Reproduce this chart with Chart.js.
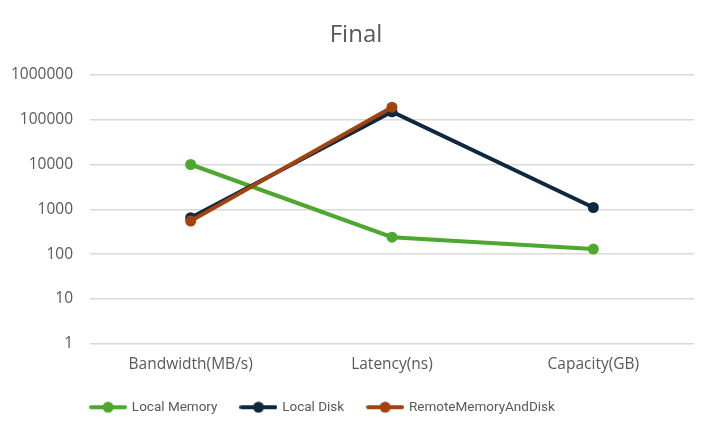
<!DOCTYPE html>
<html>
<head>
<meta charset="utf-8">
<script src="https://cdn.jsdelivr.net/npm/chart.js@4.4.1/dist/chart.umd.min.js"></script>
<style>
    html, body { margin: 0; padding: 0; background: #fff; }
    #wrap { width: 712px; height: 429px; }
</style>
</head>
<body>
<div id="wrap"><canvas id="chart" width="712" height="429"></canvas></div>
<script>
const categories = ['Bandwidth(MB/s)', 'Latency(ns)', 'Capacity(GB)'];
const localMemory = [10000, 240, 130];
const localDisk = [650, 150000, 1100];
const remoteMemoryAndDisk = [550, 190000, null];
const yTicks = [1, 10, 100, 1000, 10000, 100000, 1000000];

const textColor = '#595959';
const fontFamily = '"Open Sans", sans-serif';

// line + dot icon for the legend
function legendIcon(color) {
    const c = document.createElement('canvas');
    c.width = 38;
    c.height = 12;
    const g = c.getContext('2d');
    g.strokeStyle = color;
    g.lineWidth = 4;
    g.lineCap = 'round';
    g.beginPath();
    g.moveTo(2, 6);
    g.lineTo(36, 6);
    g.stroke();
    g.fillStyle = color;
    g.beginPath();
    g.arc(19, 6, 5.5, 0, Math.PI * 2);
    g.fill();
    return c;
}

function makeSeries(label, data, color, order) {
    return {
        label: label,
        data: data,
        borderColor: color,
        backgroundColor: color,
        borderWidth: 4,
        pointRadius: 5.5,
        pointHoverRadius: 5.5,
        pointBorderWidth: 0,
        order: order
    };
}

// nudge title and legend to where the reference has them
const nudgeBoxes = {
    id: 'nudgeBoxes',
    afterLayout(chart) {
        chart.legend.left -= 24;
        chart.legend.right -= 24;
        chart.titleBlock.left += 9;
        chart.titleBlock.right += 9;
    }
};

const ctx = document.getElementById('chart').getContext('2d');

new Chart(ctx, {
    type: 'line',
    data: {
        labels: categories,
        datasets: [
            makeSeries('Local Memory', localMemory, '#4EA72E', 3),
            makeSeries('Local Disk', localDisk, '#0E2841', 2),
            makeSeries('RemoteMemoryAndDisk', remoteMemoryAndDisk, '#A0430F', 1)
        ]
    },
    plugins: [nudgeBoxes],
    options: {
        responsive: false,
        animation: false,
        layout: {
            padding: { left: 0, right: 18, top: 6, bottom: 5 }
        },
        plugins: {
            title: {
                display: true,
                text: 'Final',
                color: textColor,
                font: { family: fontFamily, size: 24, weight: 'normal' },
                padding: { top: 15, bottom: 25 }
            },
            legend: {
                position: 'bottom',
                labels: {
                    color: textColor,
                    font: { family: 'Roboto, sans-serif', size: 13.5 },
                    usePointStyle: true,
                    pointStyleWidth: 34,
                    padding: 24,
                    generateLabels(chart) {
                        return chart.data.datasets.map((ds, i) => ({
                            text: ds.label,
                            pointStyle: legendIcon(ds.borderColor),
                            fontColor: textColor,
                            hidden: false,
                            lineWidth: 0,
                            strokeStyle: ds.borderColor,
                            fillStyle: ds.borderColor,
                            datasetIndex: i
                        }));
                    }
                }
            },
            tooltip: { enabled: false }
        },
        scales: {
            x: {
                offset: true,
                grid: { display: false },
                border: { display: false },
                ticks: {
                    color: textColor,
                    font: { family: fontFamily, size: 15.5 },
                    padding: 3
                }
            },
            y: {
                type: 'logarithmic',
                min: 1,
                max: 1000000,
                afterBuildTicks(axis) {
                    axis.ticks = yTicks.map(v => ({ value: v }));
                },
                afterFit(axis) {
                    axis.width = 90;
                },
                grid: { color: '#d9d9d9', lineWidth: 1.5, drawTicks: false },
                border: { display: false },
                ticks: {
                    color: textColor,
                    font: { family: fontFamily, size: 15.5 },
                    padding: 17,
                    callback: v => String(v)
                }
            }
        }
    }
});
</script>
</body>
</html>
